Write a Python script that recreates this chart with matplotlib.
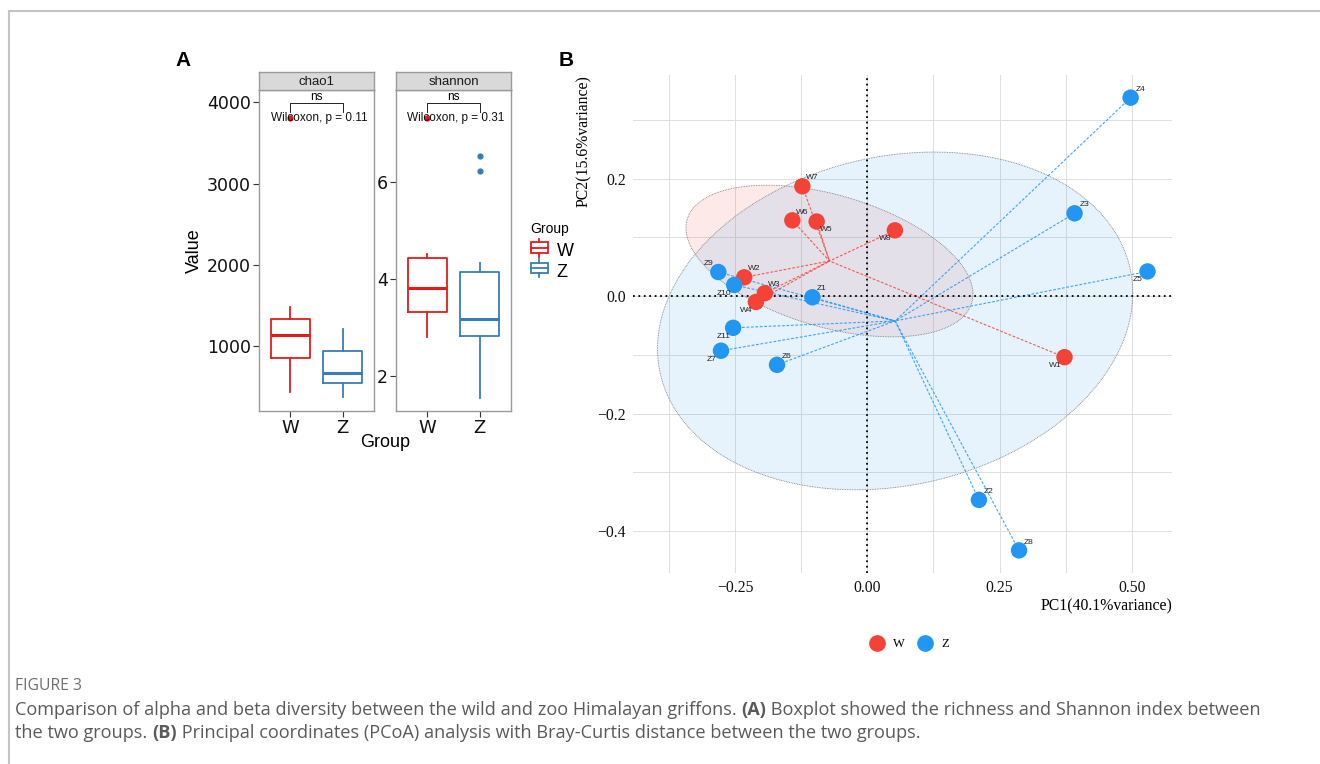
import numpy as np
import matplotlib
matplotlib.use('Agg')
import matplotlib.pyplot as plt
from matplotlib.lines import Line2D
from matplotlib.patches import Rectangle, Patch, Polygon
from matplotlib.legend_handler import HandlerBase

# ---- panel A: boxplot summaries ----
groups = ['W', 'Z']
chao1_stats = {
    'W': dict(whislo=437, q1=849, med=1132, q3=1329, whishi=1484, fliers=[3803]),
    'Z': dict(whislo=368, q1=541, med=671, q3=942, whishi=1206, fliers=[]),
}
shannon_stats = {
    'W': dict(whislo=2.82, q1=3.33, med=3.82, q3=4.43, whishi=4.52, fliers=[7.32]),
    'Z': dict(whislo=1.56, q1=2.84, med=3.18, q3=4.14, whishi=4.33, fliers=[6.23, 6.54]),
}
chao1_p = 'Wilcoxon, p = 0.11'
shannon_p = 'Wilcoxon, p = 0.31'

# ---- panel B: PCoA coordinates ----
w_names = ['W1', 'W2', 'W3', 'W4', 'W5', 'W6', 'W7', 'W8']
w_pc1 = [0.373, -0.233, -0.194, -0.211, -0.096, -0.142, -0.123, 0.052]
w_pc2 = [-0.104, 0.032, 0.005, -0.010, 0.127, 0.129, 0.187, 0.112]
z_names = ['Z1', 'Z2', 'Z3', 'Z4', 'Z5', 'Z6', 'Z7', 'Z8', 'Z9', 'Z10', 'Z11']
z_pc1 = [-0.104, 0.211, 0.392, 0.498, 0.530, -0.171, -0.277, 0.287, -0.282, -0.252, -0.254]
z_pc2 = [-0.002, -0.347, 0.141, 0.338, 0.042, -0.117, -0.093, -0.433, 0.041, 0.019, -0.054]
ellipse_level = 0.6

# where each sample label sits relative to its point
w_side = ['bl', 'tr', 'tr', 'bl', 'br', 'tr', 'tr', 'bl']
z_side = ['tr', 'tr', 'tr', 'tr', 'bl', 'tr', 'bl', 'tr', 'tl', 'bl', 'bl']

RED_A, BLUE_A = '#E41A1C', '#377EB8'
RED_B, BLUE_B = '#F44336', '#2196F3'

W, H = 1320, 764
fig = plt.figure(figsize=(W / 100, H / 100), dpi=100)


def px(x0, y0, x1, y1):
    # pixel box -> figure fraction rect
    return [x0 / W, 1 - y1 / H, (x1 - x0) / W, (y1 - y0) / H]


# frame
fig.add_artist(Line2D([9 / W, 1], [1 - 11 / H] * 2, color='#c4c4c4', lw=1.5, transform=fig.transFigure))
fig.add_artist(Line2D([9 / W] * 2, [0, 1 - 11 / H], color='#c4c4c4', lw=1.5, transform=fig.transFigure))

# ================= panel A =================
sans = 'Liberation Sans'


def box_panel(x0, x1, stats, ylim, yticks, strip, ptext, yb):
    ax = fig.add_axes(px(x0, 90, x1, 411))
    for i, g in enumerate(groups):
        c = RED_A if g == 'W' else BLUE_A
        s = dict(stats[g])
        s['fliers'] = np.array(s['fliers'])
        ax.bxp([s], positions=[i + 1], widths=0.75, showcaps=False,
               boxprops=dict(color=c, lw=1.3),
               whiskerprops=dict(color=c, lw=1.3),
               medianprops=dict(color=c, lw=2.2),
               flierprops=dict(marker='o', markerfacecolor=c, markeredgecolor='none', markersize=4.5))
    ax.set_xlim(0.4, 2.6)
    ax.set_ylim(*ylim)
    ax.set_xticks([1, 2])
    ax.set_xticklabels(groups)
    ax.set_yticks(yticks)
    ax.tick_params(colors='#333333', labelcolor='#111111', labelsize=12.5, length=4, width=0.8, pad=2)
    ax.tick_params(axis='x', labelsize=13)
    for sp in ax.spines.values():
        sp.set_color('#9a9a9a')
        sp.set_linewidth(1.0)
    # significance bracket
    top, tick = yb
    ax.plot([1, 1, 2, 2], [tick, top, top, tick], color='#222222', lw=0.7)
    ax.text(1.5, top, 'ns', ha='center', va='bottom', fontsize=8.5, family=sans)
    ax.text(1.55, tick, ptext, ha='center', va='top', fontsize=8.5, family=sans, color='#111111')
    # strip
    st = fig.add_axes(px(x0, 72, x1, 90))
    st.set_facecolor('#D9D9D9')
    st.set_xticks([])
    st.set_yticks([])
    for sp in st.spines.values():
        sp.set_color('#9a9a9a')
        sp.set_linewidth(1.0)
    st.text(0.5, 0.45, strip, ha='center', va='center', fontsize=9.5, family=sans, color='#1a1a1a')
    return ax


ax1 = box_panel(259, 374, chao1_stats, (200, 4151), [1000, 2000, 3000, 4000], 'chao1', chao1_p, (3988, 3884))
ax2 = box_panel(396, 511, shannon_stats, (1.285, 7.90), [2, 4, 6], 'shannon', shannon_p, (7.63, 7.456))
ax1.set_ylabel('Value', fontsize=13, family=sans)
ax1.yaxis.set_label_coords((203 - 259) / 115, 0.5)
fig.text(385 / W, 1 - 443 / H, 'Group', ha='center', va='center', fontsize=13, family=sans)


class BoxKey(HandlerBase):
    def create_artists(self, legend, orig, x0, y0, w, h, fontsize, trans):
        c = orig.get_edgecolor()
        yb, yt = y0 + 0.15 * h, y0 + 0.85 * h
        arts = [Rectangle((x0, yb), w, yt - yb, fill=False, ec=c, lw=1.3, transform=trans),
                Line2D([x0, x0 + w], [y0 + h / 2] * 2, color=c, lw=1.3, transform=trans),
                Line2D([x0 + w / 2] * 2, [y0 - 0.1 * h, yb], color=c, lw=1.3, transform=trans),
                Line2D([x0 + w / 2] * 2, [yt, y0 + 1.1 * h], color=c, lw=1.3, transform=trans)]
        return arts


fig.text(530 / W, 1 - 229 / H, 'Group', ha='left', va='center', fontsize=10, family=sans)
hands = [Patch(edgecolor=RED_A, facecolor='none'), Patch(edgecolor=BLUE_A, facecolor='none')]
fig.legend(hands, groups, handler_map={Patch: BoxKey()},
           loc='upper left', bbox_to_anchor=(518 / W, 1 - 230 / H), frameon=False,
           prop=dict(family=sans, size=13),
           handlelength=0.95, handleheight=0.9, handletextpad=0.5, labelspacing=0.15,
           borderpad=0.2)

fig.text(183 / W, 1 - 60 / H, 'A', ha='center', va='center', fontsize=15, fontweight='bold', family=sans)
fig.text(566 / W, 1 - 60 / H, 'B', ha='center', va='center', fontsize=15, fontweight='bold', family=sans)

# ================= panel B =================
serif = 'Liberation Serif'


def ellipse_pts(pts, level, segs=121):
    cen = pts.mean(axis=0)
    cov = np.cov(pts.T)
    r = np.sqrt(-2 * np.log(1 - level))  # chi-square(2) quantile
    a = np.linspace(0, 2 * np.pi, segs)
    circ = np.column_stack([np.cos(a), np.sin(a)])
    L = np.linalg.cholesky(cov)
    return cen + r * circ @ L.T


axB = fig.add_axes(px(633, 75, 1172, 573))
wp = np.column_stack([w_pc1, w_pc2])
zp = np.column_stack([z_pc1, z_pc2])
ew = ellipse_pts(wp, ellipse_level)
ez = ellipse_pts(zp, ellipse_level)

allp = np.vstack([wp, zp, ew, ez])
lo, hi = allp.min(axis=0), allp.max(axis=0)
pad = 0.05 * (hi - lo)
axB.set_xlim(lo[0] - pad[0], hi[0] + pad[0])
axB.set_ylim(lo[1] - pad[1], hi[1] + pad[1])

for e, c in [(ew, RED_B), (ez, BLUE_B)]:
    axB.add_patch(Polygon(e, closed=True, facecolor=c, alpha=0.11, edgecolor='none', zorder=1))
    axB.plot(e[:, 0], e[:, 1], ls=(0, (1, 1)), color='#7a7a7a', lw=0.6, zorder=1.5)

for pts, c in [(wp, RED_B), (zp, BLUE_B)]:
    cen = pts.mean(axis=0)
    for x, y in pts:
        axB.plot([x, cen[0]], [y, cen[1]], color=c, lw=0.8, ls=(0, (2.5, 1.5)), alpha=0.85, zorder=2)

axB.axhline(0, color='black', ls=(0, (1, 2)), lw=1.3, zorder=2.5)
axB.axvline(0, color='black', ls=(0, (1, 2)), lw=1.3, zorder=2.5)

off = {'tr': (7, 6), 'tl': (-7, 6), 'br': (7, -6), 'bl': (-7, -6)}
for pts, names, sides, c in [(wp, w_names, w_side, RED_B), (zp, z_names, z_side, BLUE_B)]:
    axB.scatter(pts[:, 0], pts[:, 1], s=140, color=c, edgecolors='none', zorder=3)
    for (x, y), nm, sd in zip(pts, names, sides):
        axB.annotate(nm, (x, y), xytext=off[sd], textcoords='offset points', ha='center', va='center',
                     fontsize=6, family=sans, color='#222222', zorder=4)

axB.set_xticks([-0.25, 0, 0.25, 0.5])
axB.set_xticklabels(['\u22120.25', '0.00', '0.25', '0.50'])
axB.set_yticks([-0.4, -0.2, 0, 0.2])
axB.set_yticklabels(['\u22120.4', '\u22120.2', '0.0', '0.2'])
axB.set_xticks([-0.375, -0.125, 0.125, 0.375], minor=True)
axB.set_yticks([-0.3, -0.1, 0.1, 0.3], minor=True)
axB.grid(True, which='both', color='#DEDEDE', lw=0.7)
axB.set_axisbelow(True)
for sp in axB.spines.values():
    sp.set_visible(False)
axB.tick_params(which='both', length=0, labelsize=11.3, pad=5, labelcolor='#111111')
for t in axB.get_xticklabels() + axB.get_yticklabels():
    t.set_family(serif)
axB.set_xlabel('PC1(40.1%variance)', fontsize=11.3, family=serif, loc='right', labelpad=2)
axB.set_ylabel('PC2(15.6%variance)', fontsize=11.3, family=serif, loc='top', labelpad=4)

hB = [Line2D([], [], ls='none', marker='o', ms=11, color=RED_B),
      Line2D([], [], ls='none', marker='o', ms=11, color=BLUE_B)]
fig.legend(hB, groups, loc='center', bbox_to_anchor=(909 / W, 1 - 644 / H), ncol=2, frameon=False,
           prop=dict(family=serif, size=9), handletextpad=0.7, columnspacing=1.0, handlelength=1.2)

# ================= caption =================
cap = 'Open Sans'
fig.text(15 / W, 1 - 686 / H, 'FIGURE 3', fontsize=11.3, family=cap, color='#707070', va='center')
rend = fig.canvas.get_renderer()


def rich(x, y, parts):
    for txt, bold in parts:
        t = fig.text(x / W, 1 - y / H, txt, fontsize=13.1, family=cap, color='#5a5a5a',
                     fontweight='bold' if bold else 'normal', va='center')
        x = t.get_window_extent(rend).x1


rich(15, 710, [('Comparison of alpha and beta diversity between the wild and zoo Himalayan griffons. ', False),
               ('(A)', True),
               (' Boxplot showed the richness and Shannon index between', False)])
rich(15, 733, [('the two groups. ', False), ('(B)', True),
               (' Principal coordinates (PCoA) analysis with Bray-Curtis distance between the two groups.', False)])

fig.savefig('out.png', dpi=100)
